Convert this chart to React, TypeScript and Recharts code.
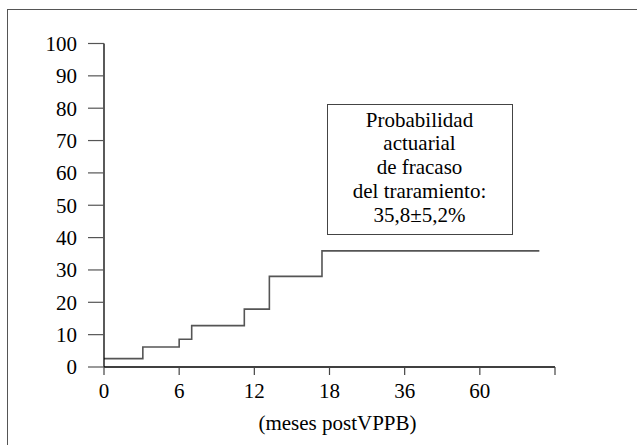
import React from 'react';
import { LineChart, Line, XAxis, YAxis } from 'recharts';

// Kaplan-Meier style step curve
const months = [0, 3.1, 6, 7, 11.2, 13.2, 17.4, 79];
const failurePct = [2.6, 6.2, 8.6, 12.8, 17.9, 28.0, 35.9, 35.9];

// x axis is not linear: labelled ticks are evenly spaced
const tickMonths = [0, 6, 12, 18, 36, 60];
const yTicks = [0, 10, 20, 30, 40, 50, 60, 70, 80, 90, 100];
const boxLines = ['Probabilidad', 'actuarial', 'de fracaso', 'del traramiento:', '35,8±5,2%'];

const FONT = "'Times New Roman', 'Liberation Serif', Tinos, 'DejaVu Serif', serif";

// months -> tick slot (piecewise linear, last segment extended)
const toPos = (m: number) => {
  for (let i = 1; i < tickMonths.length; i++) {
    if (m <= tickMonths[i]) {
      const a = tickMonths[i - 1];
      const b = tickMonths[i];
      return i - 1 + (m - a) / (b - a);
    }
  }
  const n = tickMonths.length;
  const span = tickMonths[n - 1] - tickMonths[n - 2];
  return n - 1 + (m - tickMonths[n - 1]) / span;
};

const data = months.map((m, i) => ({ pos: toPos(m), pct: failurePct[i] }));
const slotTicks = [0, 1, 2, 3, 4, 5, 6];

export default function App() {
  const tickStyle = { fill: '#000', fontSize: 21, fontFamily: FONT };
  return (
    <div
      style={{
        position: 'absolute',
        left: 0,
        top: 0,
        width: 637,
        height: 445,
        overflow: 'hidden',
        background: '#fff',
        fontFamily: FONT,
      }}
    >
      <div
        style={{
          position: 'absolute',
          left: 7,
          top: 9,
          width: 630,
          height: 436,
          borderLeft: '1.5px solid #555',
          borderTop: '1.5px solid #555',
          boxSizing: 'border-box',
        }}
      />
      <div style={{ position: 'absolute', left: 0, top: 0 }}>
        <LineChart
          width={637}
          height={445}
          data={data}
          margin={{ top: 43.5, right: 82, bottom: 0, left: 0 }}
          style={{ fontFamily: FONT }}
        >
          <XAxis
            type="number"
            dataKey="pos"
            domain={[0, 6]}
            ticks={slotTicks}
            tickFormatter={(v: number) => (tickMonths[v] !== undefined ? String(tickMonths[v]) : '')}
            height={78}
            tickSize={8}
            tickMargin={8}
            tick={tickStyle}
            axisLine={{ stroke: '#000', strokeWidth: 1.3 }}
            tickLine={{ stroke: '#444', strokeWidth: 1.2 }}
            label={{
              value: '(meses postVPPB)',
              position: 'insideBottom',
              offset: 15,
              dx: 8,
              style: { fill: '#000', fontSize: 21, fontFamily: FONT },
            }}
          />
          <YAxis
            type="number"
            domain={[0, 100]}
            ticks={yTicks}
            width={104}
            tickSize={16}
            tickMargin={11}
            tick={tickStyle}
            axisLine={{ stroke: '#000', strokeWidth: 1.3 }}
            tickLine={{ stroke: '#555', strokeWidth: 1.2 }}
          />
          <Line
            type="stepAfter"
            dataKey="pct"
            stroke="#555"
            strokeWidth={1.6}
            dot={false}
            isAnimationActive={false}
          />
        </LineChart>
      </div>
      <div
        style={{
          position: 'absolute',
          left: 326.5,
          top: 104,
          width: 186,
          height: 131,
          border: '1.5px solid #444',
          boxSizing: 'border-box',
          paddingTop: 3.5,
          textAlign: 'center',
          fontFamily: FONT,
          fontSize: 21,
          lineHeight: '23.75px',
          color: '#000',
        }}
      >
        {boxLines.map((t) => (
          <div key={t}>{t}</div>
        ))}
      </div>
    </div>
  );
}
